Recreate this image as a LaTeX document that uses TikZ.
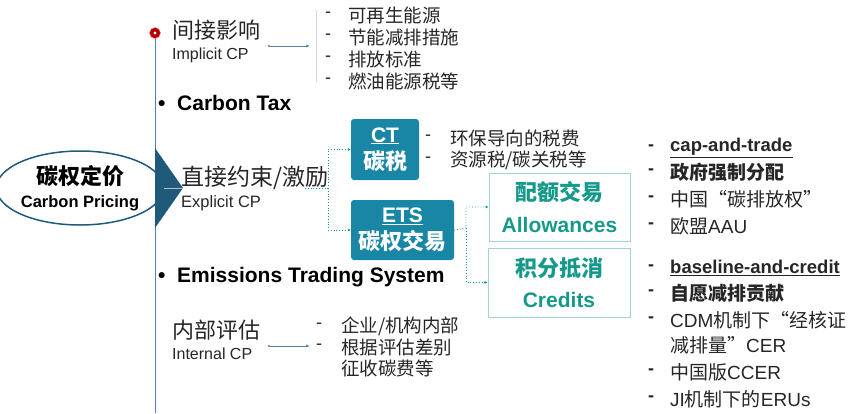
\documentclass[tikz,border=0pt]{standalone}
\usepackage{fontspec}
\setmainfont{Liberation Sans}
\newfontfamily\cjk{Noto Sans CJK SC}
\usetikzlibrary{shapes.geometric,arrows.meta}
\definecolor{stem}{HTML}{5B7FA8}
\definecolor{boxb}{HTML}{1A86A5}
\definecolor{tealt}{HTML}{17998A}
\definecolor{tealb}{HTML}{9FD6D2}
\definecolor{tri}{HTML}{1F5A7A}
\newcommand{\fs}[1]{\fontsize{#1}{1.25\dimexpr#1pt\relax}\selectfont}
\newcommand{\C}[1]{{\cjk #1}}
\tikzset{
 t/.style={anchor=west,inner sep=0pt,text=black!85},
 bluebox/.style={draw=none,fill=boxb,rounded corners=3pt,text=white,align=center,inner sep=2pt,font=\fs{22}},
 tealbox/.style={draw=tealb,line width=0.8pt,text=tealt,align=center,inner sep=0pt,font=\fs{22}},
 dot/.style={draw=tealt,dotted,line width=0.8pt,-{Latex[length=3pt,width=3pt]}},
 barr/.style={draw=stem,line width=0.6pt,{Circle[length=2pt]}-{Latex[length=4pt]}},
 li/.style={t,font=\fs{18}}
}
\begin{document}
\begin{tikzpicture}[x=1pt,y=-1pt]
\useasboundingbox (0,0) rectangle (865,413);
\draw[stem,line width=1pt] (155,33) -- (155,413);
\node[circle,fill=red!70!black,draw=red!50,minimum size=11pt,inner sep=0pt] (rc) at (155,33) {};
\fill[white] (155,33) circle (1.6pt);
\node[ellipse,draw=tri,line width=1.5pt,minimum width=146pt,minimum height=74pt,align=center,inner sep=0pt,font=\fs{19}] (cp) at (80,188)
 {{\cjk\bfseries\fs{22}碳权定价}\\[-1pt]{\bfseries\fs{16.5}Carbon Pricing}};
\fill[tri] (155,148) -- (183,188) -- (155,228) -- cycle;
\coordinate (tr) at (183,188);
\draw[gray!50,line width=0.6pt] (cp.east) -- (tr);
% implicit
\node[t,font=\cjk\fs{22}] (ind) at (172,30) {间接影响};
\node[t,font=\fs{16}] (imp) at (172,55) {Implicit CP};
\draw[barr] (268,46) -- (310,46);
\draw[gray!30,line width=0.6pt] (316,10) -- (316,82);
\node[li] at (325,15) {-}; \node[li,font=\cjk\fs{18.5}] at (348,15) {可再生能源};
\node[li] at (325,37) {-}; \node[li,font=\cjk\fs{18.5}] at (348,37) {节能减排措施};
\node[li] at (325,59) {-}; \node[li,font=\cjk\fs{18.5}] at (348,59) {排放标准};
\node[li] at (325,81) {-}; \node[li,font=\cjk\fs{18.5}] at (348,81) {燃油能源税等};
\node[t,font=\bfseries\fs{21},text=black] (ctx) at (158,103) {•\ \ Carbon Tax};
% explicit
\node[t,font=\cjk\fs{23}] (dir) at (181,178) {直接约束/激励};
\node[t,font=\fs{16.5}] (exp) at (181,203) {Explicit CP};
\node[bluebox,minimum width=68pt,minimum height=61pt] (ct) at (385,149.5) {{\bfseries\fs{21}\underline{CT}}\\[0pt]{\cjk\bfseries\fs{22}碳税}};
\node[bluebox,minimum width=103pt,minimum height=60pt] (ets) at (402.5,230) {{\bfseries\fs{21}\underline{ETS}}\\[0pt]{\cjk\bfseries\fs{22}碳权交易}};
\coordinate (es) at (305,188);
\draw[dot] (es) -- (328,188) |- (ct.west);
\draw[dot] (328,188) |- (ets.west);
\node[li] at (425,138) {-}; \node[li,font=\cjk\fs{18.5}] at (450,138) {环保导向的税费};
\node[li] at (425,160) {-}; \node[li,font=\cjk\fs{18.5}] at (450,160) {资源税/碳关税等};
\node[tealbox,minimum width=141pt,minimum height=68pt] (al) at (559.5,207) {{\cjk\bfseries\fs{22}配额交易}\\[4pt]{\bfseries\fs{21}Allowances}};
\node[tealbox,minimum width=142pt,minimum height=69pt] (cr) at (559,282.5) {{\cjk\bfseries\fs{22}积分抵消}\\[4pt]{\bfseries\fs{21}Credits}};
\draw[dot] (ets.east) -- (466,228) |- (al.west);
\draw[dot] (466,228) |- (cr.west);
\node[t,font=\bfseries\fs{21},text=black] (etsx) at (158,277) {•\ \ Emissions Trading System};
% internal
\node[t,font=\cjk\fs{22}] (inn) at (172,330) {内部评估};
\node[t,font=\fs{16}] (int) at (172,354) {Internal CP};
\draw[barr] (268,346) -- (310,346);
\node[li] at (316,326) {-}; \node[li,font=\cjk\fs{18.5}] at (341,326) {企业/机构内部};
\node[li] at (316,347) {-}; \node[li,font=\cjk\fs{18.5}] at (341,347) {根据评估差别};
\node[li,font=\cjk\fs{18.5}] at (341,368) {征收碳费等};
% right list
\node[li] at (648,148) {\bfseries -}; \node[li,font=\bfseries\fs{18.5}] at (670,148) {\underline{cap-and-trade}};
\node[li] at (648,172) {\bfseries -}; \node[li,font=\cjk\bfseries\fs{19}] at (670,172) {政府强制分配};
\node[li] at (648,199) {\bfseries -}; \node[li,font=\cjk\fs{19}] at (670,199) {中国“碳排放权”};
\node[li] at (648,226) {\bfseries -}; \node[li,font=\fs{19}] at (670,226) {\C{欧盟}AAU};
\node[li] at (648,268) {\bfseries -}; \node[li,font=\bfseries\fs{18.5}] at (670,268) {\underline{baseline-and-credit}};
\node[li] at (648,293) {\bfseries -}; \node[li,font=\cjk\bfseries\fs{19}] at (670,293) {自愿减排贡献};
\node[li] at (648,320) {\bfseries -}; \node[li,font=\fs{19}] at (670,320) {CDM\C{机制下“经核证}};
\node[li,font=\fs{19}] at (670,345) {\C{减排量”}CER};
\node[li] at (648,372) {\bfseries -}; \node[li,font=\fs{19}] at (670,372) {\C{中国版}CCER};
\node[li] at (648,399) {\bfseries -}; \node[li,font=\fs{19}] at (670,399) {JI\C{机制下的}ERUs};
\end{tikzpicture}
\end{document}
